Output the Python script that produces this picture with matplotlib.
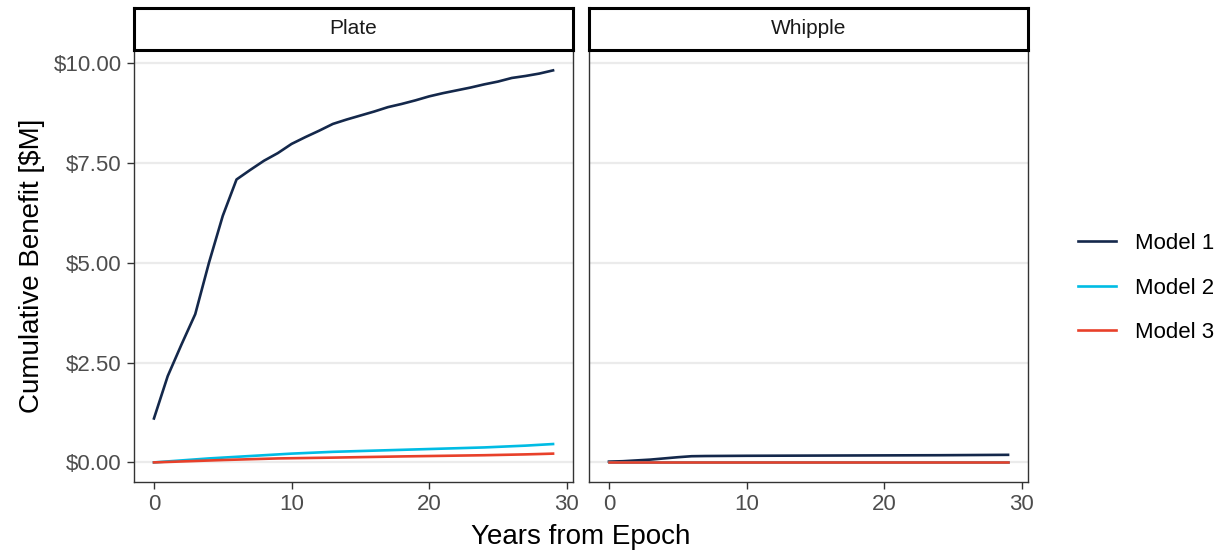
import numpy as np
import matplotlib.pyplot as plt

plt.rcParams['font.family'] = ['Liberation Sans', 'DejaVu Sans']

years = np.arange(0, 30)

# Cumulative benefit in $M, per site and model
plate_m1 = [1.10, 2.16, 2.95, 3.71, 5.00, 6.17, 7.08, 7.32, 7.55, 7.74,
            7.97, 8.14, 8.30, 8.47, 8.58, 8.68, 8.78, 8.89, 8.97, 9.06,
            9.16, 9.24, 9.31, 9.38, 9.46, 9.53, 9.62, 9.67, 9.73, 9.81]
plate_m2 = [0.00, 0.025, 0.05, 0.075, 0.10, 0.12, 0.14, 0.16, 0.18, 0.20,
            0.22, 0.235, 0.25, 0.265, 0.275, 0.285, 0.295, 0.305, 0.315, 0.325,
            0.335, 0.345, 0.355, 0.365, 0.375, 0.39, 0.405, 0.42, 0.44, 0.46]
plate_m3 = [0.00, 0.012, 0.024, 0.036, 0.048, 0.06, 0.07, 0.08, 0.09, 0.10,
            0.105, 0.11, 0.115, 0.12, 0.126, 0.132, 0.138, 0.144, 0.15, 0.155,
            0.16, 0.165, 0.17, 0.175, 0.18, 0.187, 0.194, 0.201, 0.21, 0.22]
whipple_m1 = [0.02, 0.03, 0.05, 0.07, 0.10, 0.13, 0.155, 0.16, 0.162, 0.164,
              0.166, 0.167, 0.168, 0.169, 0.170, 0.171, 0.172, 0.173, 0.174, 0.175,
              0.176, 0.177, 0.178, 0.179, 0.180, 0.182, 0.184, 0.186, 0.188, 0.19]
whipple_m2 = [0.005] * 30
whipple_m3 = [0.0] * 30

panels = ['Plate', 'Whipple']
series = {'Plate': [plate_m1, plate_m2, plate_m3],
          'Whipple': [whipple_m1, whipple_m2, whipple_m3]}
labels = ['Model 1', 'Model 2', 'Model 3']
colors = ['#14284b', '#00bce4', '#e8402a']
yticks = [0, 2.5, 5, 7.5, 10]

W, H = 1226, 554
fig = plt.figure(figsize=(W / 100, H / 100), dpi=100)

def px_axes(left, top, right, bottom):
    return fig.add_axes([left / W, 1 - bottom / H, (right - left) / W, (bottom - top) / H])

lefts = [134, 589]
handles = []
for i, name in enumerate(panels):
    ax = px_axes(lefts[i], 50, lefts[i] + 439, 482)
    for vals, lab, col in zip(series[name], labels, colors):
        ln, = ax.plot(years, vals, color=col, lw=1.9, label=lab, zorder=3)
        if i == 0:
            handles.append(ln)
    ax.set_xlim(-1.45, 30.45)
    ax.set_ylim(-0.49, 10.32)
    ax.set_yticks(yticks)
    ax.set_xticks([0, 10, 20, 30])
    ax.grid(axis='y', color='#ebebeb', lw=1.6, zorder=0)
    ax.set_axisbelow(True)
    for sp in ax.spines.values():
        sp.set_color('#333333')
        sp.set_linewidth(1.0)
    ax.tick_params(direction='out', length=5, width=1, color='#333333',
                   labelsize=16, labelcolor='#4d4d4d', pad=4)
    if i == 0:
        ax.set_yticklabels(['$%.2f' % v for v in yticks])
        ax.set_ylabel('Cumulative Benefit [$M]', fontsize=20, labelpad=6)
    else:
        ax.set_yticklabels([])
        ax.tick_params(axis='y', length=0)

    # facet strip
    st = px_axes(lefts[i], 8, lefts[i] + 439, 50)
    st.set_xticks([])
    st.set_yticks([])
    for sp in st.spines.values():
        sp.set_color('black')
        sp.set_linewidth(2.2)
    st.text(0.5, 0.5, name, ha='center', va='center', fontsize=15,
            color='#1a1a1a', transform=st.transAxes)

fig.text(581 / W, 1 - 537 / H, 'Years from Epoch', ha='center', va='center', fontsize=20)

fig.legend(handles=handles, labels=labels, loc='center left',
           bbox_to_anchor=(1078 / W, 1 - 288 / H), frameon=False, fontsize=16,
           borderpad=0, borderaxespad=0,
           handlelength=1.7, labelspacing=1.05, handletextpad=0.85)

fig.savefig('out.png', dpi=100)
